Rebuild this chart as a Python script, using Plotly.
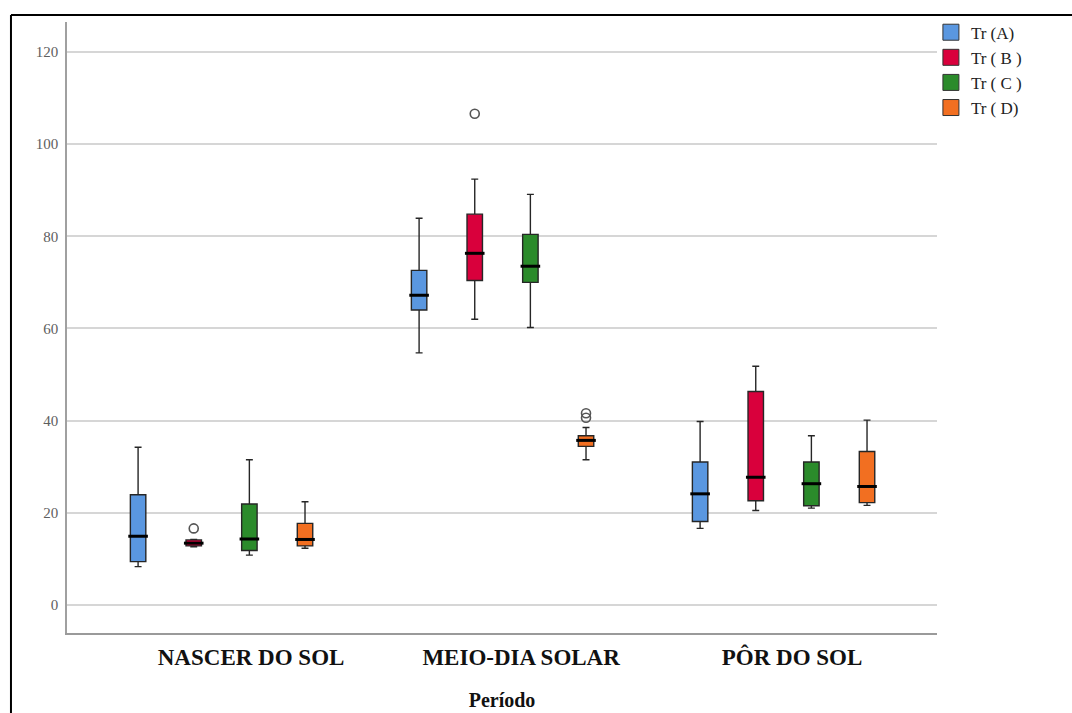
import plotly.graph_objects as go

# Períodos do dia (categorias do eixo X)
periods = ["NASCER DO SOL", "MEIO-DIA SOLAR", "PÔR DO SOL"]
series_names = ["Tr (A)", "Tr ( B )", "Tr ( C )", "Tr ( D)"]
series_colors = ["#5a97e0", "#d9003c", "#2b8b2b", "#f26f21"]

# Estatísticas de cada caixa, por período (nascer, meio-dia, pôr do sol)
lower_a = [8.3, 54.7, 16.6]
q1_a = [9.4, 64.0, 18.1]
median_a = [14.9, 67.2, 24.1]
q3_a = [23.9, 72.6, 31.0]
upper_a = [34.2, 83.9, 39.8]

lower_b = [12.6, 62.0, 20.5]
q1_b = [12.8, 70.4, 22.6]
median_b = [13.4, 76.3, 27.7]
q3_b = [14.1, 84.8, 46.3]
upper_b = [14.2, 92.4, 51.8]

lower_c = [10.8, 60.2, 21.0]
q1_c = [11.8, 70.0, 21.5]
median_c = [14.3, 73.5, 26.3]
q3_c = [21.9, 80.4, 31.0]
upper_c = [31.5, 89.1, 36.7]

lower_d = [12.3, 31.5, 21.6]
q1_d = [12.8, 34.4, 22.2]
median_d = [14.2, 35.7, 25.7]
q3_d = [17.7, 36.7, 33.3]
upper_d = [22.4, 38.5, 40.1]

# Valores atípicos: (índice do período, valor)
outliers_a = []
outliers_b = [(0, 16.6), (1, 106.6)]
outliers_c = []
outliers_d = [(1, 41.6), (1, 40.6)]

y_ticks = [0, 20, 40, 60, 80, 100, 120]

stats = [
    (lower_a, q1_a, median_a, q3_a, upper_a, outliers_a),
    (lower_b, q1_b, median_b, q3_b, upper_b, outliers_b),
    (lower_c, q1_c, median_c, q3_c, upper_c, outliers_c),
    (lower_d, q1_d, median_d, q3_d, upper_d, outliers_d),
]

SLOT = 0.198      # distância entre caixas do mesmo grupo
BOX_W = 0.055     # largura de cada caixa
LABEL_SHIFT = [0.105, 0.066, 0.03]

fig = go.Figure()

for k, (lo, q1, med, q3, up, outs) in enumerate(stats):
    xs = [i + (k - 1.5) * SLOT for i in range(len(periods))]
    fig.add_trace(go.Box(
        x=xs, q1=q1, median=med, q3=q3, lowerfence=lo, upperfence=up,
        width=BOX_W, whiskerwidth=0.45,
        fillcolor=series_colors[k],
        line=dict(color="#262626", width=1.4),
        boxpoints=False, showlegend=False, hoverinfo="skip",
    ))
    # linha da mediana mais grossa
    fig.add_trace(go.Scatter(
        x=xs, y=med, mode="markers",
        marker=dict(symbol="line-ew", size=14,
                    line=dict(color="#000000", width=3)),
        showlegend=False, hoverinfo="skip",
    ))
    if outs:
        fig.add_trace(go.Scatter(
            x=[o[0] + (k - 1.5) * SLOT for o in outs],
            y=[o[1] for o in outs], mode="markers",
            marker=dict(symbol="circle-open", size=9, color="#555555",
                        line=dict(color="#555555", width=1.6)),
            showlegend=False, hoverinfo="skip",
        ))
    # entrada da legenda
    fig.add_trace(go.Scatter(
        x=[None], y=[None], mode="markers", name=series_names[k],
        marker=dict(symbol="square", size=17, color=series_colors[k],
                    line=dict(color="#333333", width=1)),
    ))

serif = "Times New Roman, Liberation Serif, serif"

fig.update_layout(
    width=1072, height=713,
    margin=dict(l=67, r=135, t=22, b=80),
    paper_bgcolor="white", plot_bgcolor="white",
    showlegend=True,
    legend=dict(x=0.993, y=1.012, xanchor="left", yanchor="top",
                font=dict(family=serif, size=17, color="#222222"),
                tracegroupgap=0, itemwidth=30,
                bgcolor="rgba(0,0,0,0)"),
    xaxis=dict(
        range=[-0.55, 2.546], showgrid=False, zeroline=False,
        automargin=False,
        tickmode="array",
        tickvals=[i + s for i, s in enumerate(LABEL_SHIFT)],
        ticktext=periods, ticks="",
        tickfont=dict(family=serif, size=23, color="#111111", weight="bold"),
        ticklabelstandoff=2,
        showline=True, linecolor="#9a9a9a", linewidth=2,
        title=dict(text="Período", standoff=24,
                   font=dict(family=serif, size=20, color="#111111", weight="bold")),
    ),
    yaxis=dict(
        range=[-6.1, 126.5], tickmode="array", tickvals=y_ticks,
        automargin=False,
        showgrid=True, gridcolor="#d6d6d6", gridwidth=1.5,
        zeroline=False, ticks="",
        tickfont=dict(family=serif, size=15, color="#5e5e5e"),
        showline=True, linecolor="#a0a0a0", linewidth=1.5,
        ticklabelstandoff=4,
    ),
    shapes=[
        dict(type="line", xref="paper", yref="paper",
             x0=-0.0644, x1=1.16, y0=1.0115, y1=1.0115,
             line=dict(color="#000000", width=2)),
        dict(type="line", xref="paper", yref="paper",
             x0=-0.0644, x1=-0.0644, y0=1.0115, y1=-0.14,
             line=dict(color="#000000", width=2)),
    ],
)

fig.write_html("out.html")
